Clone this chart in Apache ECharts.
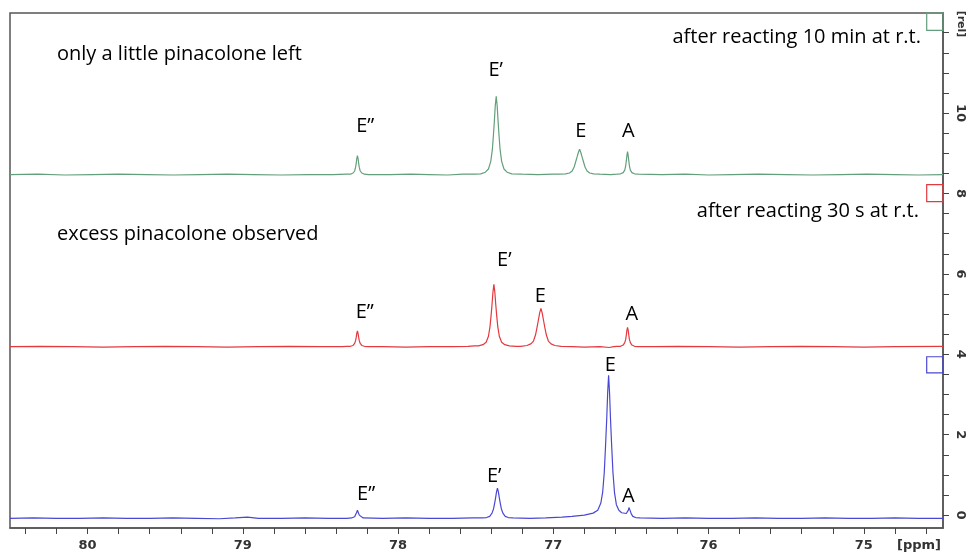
<!DOCTYPE html>
<html>
<head>
<meta charset="utf-8">
<title>13C NMR stacked spectra</title>
<script src="https://cdn.jsdelivr.net/npm/echarts@6/dist/echarts.min.js"></script>
<style>
  html, body { margin: 0; padding: 0; background: #fff; }
  #chart { width: 968px; height: 554px; }
</style>
</head>
<body>
<div id="chart"></div>
<script>
// chemical shift [ppm] / intensity [rel] pairs
const spec10min = [
  [80.50, 8.47], [80.32, 8.48], [80.15, 8.46], [79.97, 8.47], [79.80, 8.48], [79.62, 8.47],
  [79.45, 8.46], [79.28, 8.47], [79.10, 8.48], [78.93, 8.47], [78.75, 8.46], [78.58, 8.47],
  [78.42, 8.47], [78.332, 8.48], [78.307, 8.48], [78.290, 8.51], [78.280, 8.56], [78.274, 8.65],
  [78.270, 8.75], [78.266, 8.87], [78.262, 8.94], [78.258, 8.87], [78.254, 8.75], [78.250, 8.65],
  [78.244, 8.56], [78.234, 8.51], [78.217, 8.48], [78.192, 8.47], [78.05, 8.47], [77.92, 8.48],
  [77.80, 8.47], [77.68, 8.46], [77.58, 8.48], [77.50, 8.48],
  [77.468, 8.49], [77.438, 8.53], [77.418, 8.61], [77.403, 8.80], [77.393, 9.09], [77.386, 9.45],
  [77.380, 9.80], [77.374, 10.19], [77.368, 10.42], [77.362, 10.19], [77.356, 9.80], [77.350, 9.45],
  [77.343, 9.09], [77.333, 8.80], [77.318, 8.61], [77.298, 8.53], [77.268, 8.49], [77.20, 8.48],
  [77.10, 8.47], [77.00, 8.48],
  [76.961, 8.48], [76.921, 8.49], [76.896, 8.51], [76.879, 8.56], [76.866, 8.66], [76.856, 8.79],
  [76.847, 8.91], [76.839, 9.02], [76.831, 9.10], [76.823, 9.02], [76.815, 8.91], [76.806, 8.79],
  [76.796, 8.66], [76.783, 8.56], [76.766, 8.51], [76.741, 8.49], [76.701, 8.48], [76.63, 8.47],
  [76.592, 8.48], [76.567, 8.49], [76.550, 8.52], [76.540, 8.58], [76.534, 8.69], [76.530, 8.81],
  [76.526, 8.95], [76.522, 9.04], [76.518, 8.95], [76.514, 8.81], [76.510, 8.69], [76.504, 8.58],
  [76.494, 8.52], [76.477, 8.49], [76.452, 8.48], [76.30, 8.47], [76.15, 8.48], [76.00, 8.46],
  [75.85, 8.47], [75.68, 8.48], [75.50, 8.47], [75.33, 8.46], [75.15, 8.47], [74.98, 8.48],
  [74.80, 8.47], [74.65, 8.46], [74.49, 8.47]
];

const spec30s = [
  [80.50, 4.19], [80.30, 4.20], [80.10, 4.19], [79.90, 4.18], [79.70, 4.19], [79.50, 4.20],
  [79.30, 4.19], [79.10, 4.18], [78.90, 4.19], [78.70, 4.20], [78.50, 4.19], [78.36, 4.19],
  [78.332, 4.20], [78.307, 4.20], [78.290, 4.22], [78.280, 4.27], [78.274, 4.34], [78.270, 4.42],
  [78.266, 4.52], [78.262, 4.58], [78.258, 4.52], [78.254, 4.42], [78.250, 4.34], [78.244, 4.27],
  [78.234, 4.22], [78.217, 4.20], [78.192, 4.19], [78.10, 4.19], [77.95, 4.18], [77.80, 4.19],
  [77.65, 4.19], [77.55, 4.20], [77.51, 4.21],
  [77.483, 4.21], [77.453, 4.24], [77.433, 4.30], [77.418, 4.45], [77.408, 4.69], [77.401, 4.97],
  [77.395, 5.24], [77.389, 5.55], [77.383, 5.74], [77.377, 5.55], [77.371, 5.24], [77.365, 4.97],
  [77.358, 4.69], [77.348, 4.45], [77.333, 4.30], [77.313, 4.24], [77.283, 4.21], [77.24, 4.20],
  [77.210, 4.20], [77.170, 4.22], [77.145, 4.26], [77.128, 4.33], [77.115, 4.48], [77.105, 4.67],
  [77.096, 4.86], [77.088, 5.03], [77.080, 5.14], [77.072, 5.03], [77.064, 4.86], [77.055, 4.67],
  [77.045, 4.48], [77.032, 4.33], [77.015, 4.26], [76.990, 4.22], [76.950, 4.20], [76.88, 4.19],
  [76.80, 4.18], [76.70, 4.19], [76.64, 4.17], [76.61, 4.19],
  [76.592, 4.20], [76.567, 4.20], [76.550, 4.23], [76.540, 4.29], [76.534, 4.37], [76.530, 4.48],
  [76.526, 4.60], [76.522, 4.67], [76.518, 4.60], [76.514, 4.48], [76.510, 4.37], [76.504, 4.29],
  [76.494, 4.23], [76.477, 4.20], [76.452, 4.19], [76.35, 4.19], [76.20, 4.20], [76.00, 4.19],
  [75.80, 4.18], [75.60, 4.19], [75.40, 4.20], [75.20, 4.19], [75.00, 4.18], [74.80, 4.19],
  [74.49, 4.20]
];

const specStart = [
  [80.50, -0.08], [80.35, -0.07], [80.20, -0.08], [80.05, -0.08], [79.90, -0.07], [79.75, -0.08],
  [79.60, -0.08], [79.45, -0.07], [79.30, -0.08], [79.15, -0.09], [79.05, -0.07], [78.97, -0.05],
  [78.90, -0.08], [78.75, -0.08], [78.60, -0.07], [78.45, -0.08], [78.33, -0.08],
  [78.300, -0.07], [78.280, -0.04], [78.274, 0.00], [78.268, 0.06], [78.262, 0.12], [78.256, 0.06],
  [78.250, 0.00], [78.244, -0.04], [78.225, -0.07], [78.10, -0.08], [77.95, -0.07], [77.80, -0.08],
  [77.65, -0.08], [77.52, -0.07],
  [77.460, -0.07], [77.430, -0.06], [77.410, -0.03], [77.395, 0.05], [77.385, 0.16], [77.378, 0.30],
  [77.372, 0.43], [77.366, 0.58], [77.360, 0.67], [77.354, 0.58], [77.348, 0.43], [77.342, 0.30],
  [77.335, 0.16], [77.325, 0.05], [77.310, -0.03], [77.290, -0.06], [77.260, -0.07], [77.15, -0.08],
  [77.05, -0.07], [76.944, -0.05], [76.880, -0.03], [76.800, 0.00], [76.744, 0.05], [76.714, 0.12],
  [76.694, 0.30], [76.682, 0.58], [76.672, 1.06], [76.664, 1.70], [76.656, 2.41], [76.650, 3.05],
  [76.644, 3.48], [76.638, 3.05], [76.632, 2.41], [76.624, 1.70], [76.616, 1.06], [76.606, 0.56],
  [76.594, 0.26], [76.578, 0.12], [76.560, 0.06], [76.530, 0.04], [76.522, 0.06], [76.516, 0.13],
  [76.513, 0.19], [76.511, 0.23], [76.508, 0.18], [76.504, 0.10], [76.498, 0.03], [76.488, -0.03],
  [76.470, -0.06], [76.440, -0.07], [76.30, -0.08], [76.15, -0.07], [76.00, -0.08], [75.85, -0.08],
  [75.70, -0.07], [75.55, -0.08], [75.40, -0.08], [75.25, -0.07], [75.10, -0.08], [74.95, -0.08],
  [74.80, -0.07], [74.65, -0.08], [74.49, -0.08]
];

// peak labels: text and anchor [ppm, rel]
const peakNames = ['E\u201D', 'E\u2019', 'E', 'A'];
const labels10min = [[78.212, 9.68], [77.371, 11.07], [76.823, 9.54], [76.517, 9.54]];
const labels30s = [[78.215, 5.05], [77.316, 6.34], [77.084, 5.44], [76.495, 5.00]];
const labelsStart = [[78.206, 0.52], [77.381, 0.96], [76.633, 3.73], [76.517, 0.46]];

// offset markers of each trace on the right edge: [ppm from, rel from, ppm to, rel to]
const marker10min = [74.595, 12.49, 74.49, 12.06];
const marker30s = [74.595, 8.22, 74.49, 7.80];
const markerStart = [74.595, 3.94, 74.49, 3.54];

// axis ticks and labels
const xTicks = [80.4, 80.2, 80.0, 79.8, 79.6, 79.4, 79.2, 79.0, 78.8, 78.6, 78.4, 78.2, 78.0,
  77.8, 77.6, 77.4, 77.2, 77.0, 76.8, 76.6, 76.4, 76.2, 76.0, 75.8, 75.6, 75.4, 75.2, 75.0,
  74.8, 74.6];
const xLabels = [80, 79, 78, 77, 76, 75];
const yTicks = [0, 0.5, 1, 1.5, 2, 2.5, 3, 3.5, 4, 4.5, 5, 5.5, 6, 6.5, 7, 7.5, 8, 8.5, 9, 9.5,
  10, 10.5, 11, 11.5, 12];
const yLabels = [0, 2, 4, 6, 8, 10];

const colors = { min10: '#639f7b', s30: '#e3393f', start: '#4a48d2' };
const textFont = '"Open Sans", Lato, sans-serif';

function traceSeries(name, data, color, marker) {
  return {
    name: name,
    type: 'line',
    data: data,
    showSymbol: false,
    smooth: false,
    silent: true,
    lineStyle: { color: color, width: 1.2 },
    markArea: {
      silent: true,
      itemStyle: { color: 'rgba(0,0,0,0)', borderColor: color, borderWidth: 1.2 },
      data: [[{ coord: [marker[0], marker[1]] }, { coord: [marker[2], marker[3]] }]]
    }
  };
}

function labelSeries(points) {
  return {
    type: 'scatter',
    silent: true,
    symbolSize: 1,
    itemStyle: { color: 'rgba(0,0,0,0)', opacity: 1 },
    data: points.map((p, i) => ({ value: p, name: peakNames[i] })),
    label: {
      show: true,
      position: 'inside',
      formatter: (p) => p.name,
      fontFamily: textFont,
      fontSize: 20,
      color: '#000',
      opacity: 1,
      textBorderWidth: 0
    }
  };
}

const chart = echarts.init(document.getElementById('chart'));

chart.setOption({
  animation: false,
  backgroundColor: '#fff',
  grid: {
    left: 10, right: 25, top: 13, bottom: 26,
    show: true, borderColor: '#555', borderWidth: 1.5
  },
  xAxis: {
    type: 'value',
    inverse: true,
    min: 74.49,
    max: 80.50,
    axisLine: { show: true, onZero: false, lineStyle: { color: '#555', width: 1.5 } },
    axisTick: { show: true, inside: false, length: 6, customValues: xTicks, lineStyle: { color: '#444' } },
    axisLabel: {
      customValues: xLabels,
      margin: 11,
      fontFamily: 'DejaVu Sans',
      fontWeight: 'bold',
      fontSize: 13,
      color: '#333'
    },
    splitLine: { show: false }
  },
  yAxis: {
    type: 'value',
    position: 'right',
    min: -0.32,
    max: 12.49,
    axisLine: { show: true, onZero: false, lineStyle: { color: '#555', width: 1.5 } },
    axisTick: { show: true, inside: false, length: 6, customValues: yTicks, lineStyle: { color: '#444' } },
    axisLabel: {
      customValues: yLabels,
      rotate: -90,
      margin: 11,
      fontFamily: 'DejaVu Sans',
      fontWeight: 'bold',
      fontSize: 13,
      color: '#333'
    },
    splitLine: { show: false }
  },
  series: [
    traceSeries('after 10 min', spec10min, colors.min10, marker10min),
    traceSeries('after 30 s', spec30s, colors.s30, marker30s),
    traceSeries('start', specStart, colors.start, markerStart),
    labelSeries(labels10min),
    labelSeries(labels30s),
    labelSeries(labelsStart)
  ],
  graphic: [
    { type: 'text', left: 57, top: 44, style: { text: 'only a little pinacolone left', font: '20px ' + textFont, fill: '#000' } },
    { type: 'text', right: 47, top: 27, style: { text: 'after reacting 10 min at r.t.', font: '20px ' + textFont, fill: '#000' } },
    { type: 'text', right: 49, top: 201, style: { text: 'after reacting 30 s at r.t.', font: '20px ' + textFont, fill: '#000' } },
    { type: 'text', left: 57, top: 224, style: { text: 'excess pinacolone observed', font: '20px ' + textFont, fill: '#000' } },
    { type: 'text', left: 897, top: 539, style: { text: '[ppm]', font: 'bold 13px "DejaVu Sans"', fill: '#333' } },
    { type: 'text', x: 961, y: 24, rotation: -Math.PI / 2, style: { text: '[rel]', font: 'bold 11px "DejaVu Sans"', fill: '#333', align: 'center', verticalAlign: 'middle' } }
  ]
});
</script>
</body>
</html>
